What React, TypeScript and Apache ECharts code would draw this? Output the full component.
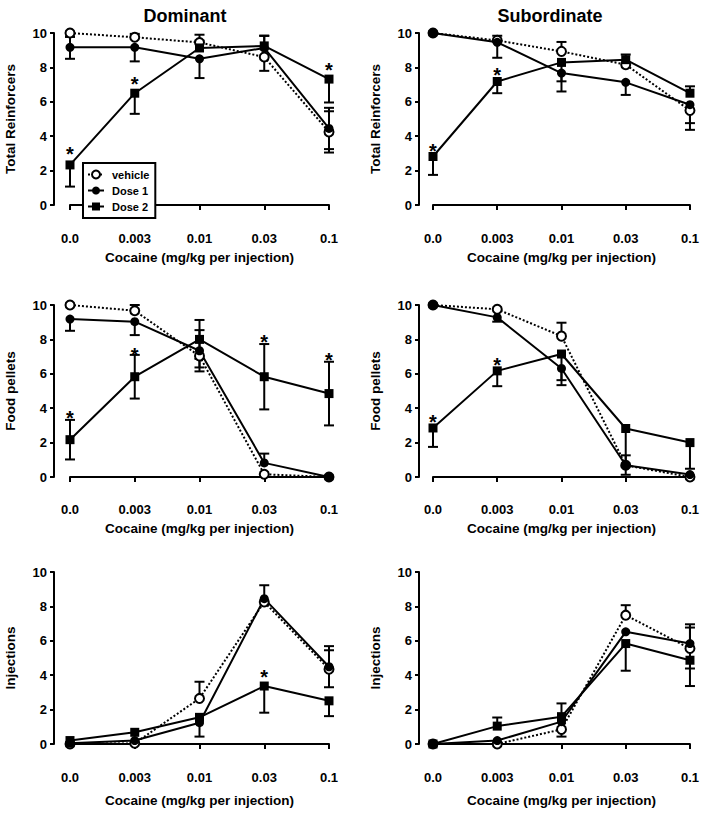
import React, { useEffect, useRef } from 'react';
import * as echarts from 'echarts';

// ---------- data ----------
const doses = ['0.0', '0.003', '0.01', '0.03', '0.1'];
const seriesNames = ['vehicle', 'Dose 1', 'Dose 2'];
const columnTitles = ['Dominant', 'Subordinate'];
const xTitle = 'Cocaine (mg/kg per injection)';
const rowTitles = ['Total Reinforcers', 'Food pellets', 'Injections'];

// Total reinforcers - Dominant
const reinfDomVeh = [10, 9.75, 9.45, 8.6, 4.25];
const reinfDomVehUp = [0, 0.2, 0.1, 0, 1.2];
const reinfDomVehDn = [0, 0, 0, 0.8, 1.2];
const reinfDomD1 = [9.17, 9.17, 8.5, 9.13, 4.45];
const reinfDomD1Up = [0.6, 0, 0, 0.7, 1.2];
const reinfDomD1Dn = [0.67, 0.82, 1.12, 0, 1.2];
const reinfDomD2 = [2.33, 6.5, 9.13, 9.25, 7.32];
const reinfDomD2Up = [0, 0, 0.77, 0.6, 0];
const reinfDomD2Dn = [1.26, 1.2, 0, 0, 1.36];
const reinfDomStars = [3.25, 7.3, null, null, 8.15];

// Total reinforcers - Subordinate
const reinfSubVeh = [10, 9.57, 8.93, 8.16, 5.5];
const reinfSubVehUp = [0, 0.27, 0.55, 0, 0];
const reinfSubVehDn = [0, 0, 0, 0, 1.13];
const reinfSubD1 = [10, 9.46, 7.67, 7.13, 5.83];
const reinfSubD1Up = [0, 0, 0, 0, 0];
const reinfSubD1Dn = [0, 0.9, 1.07, 0.73, 1.07];
const reinfSubD2 = [2.82, 7.18, 8.29, 8.45, 6.5];
const reinfSubD2Up = [0, 0, 0, 0.3, 0.4];
const reinfSubD2Dn = [1.07, 0.68, 1.1, 0, 0];
const reinfSubStars = [3.44, 7.83, null, null, null];

// Food pellets - Dominant
const foodDomVeh = [10, 9.67, 7.03, 0.16, 0];
const foodDomVehUp = [0, 0.33, 0, 0, 0];
const foodDomVehDn = [0, 0, 0.66, 0, 0];
const foodDomD1 = [9.18, 9.03, 7.34, 0.82, 0];
const foodDomD1Up = [0, 0, 1.2, 0.54, 0];
const foodDomD1Dn = [0.68, 0.78, 1.2, 0, 0];
const foodDomD2 = [2.17, 5.83, 8.0, 5.83, 4.85];
const foodDomD2Up = [1.15, 1.27, 1.13, 1.9, 1.85];
const foodDomD2Dn = [1.15, 1.27, 1.13, 1.9, 1.85];
const foodDomStars = [3.73, 7.38, null, 8.16, 7.09];

// Food pellets - Subordinate
const foodSubVeh = [10, 9.75, 8.19, 0.68, 0];
const foodSubVehUp = [0, 0, 0.78, 0.58, 0];
const foodSubVehDn = [0, 0, 0, 0, 0];
const foodSubD1 = [10, 9.28, 6.31, 0.68, 0.14];
const foodSubD1Up = [0, 0, 0, 0, 0];
const foodSubD1Dn = [0, 0.25, 0.68, 0.55, 0];
const foodSubD2 = [2.85, 6.17, 7.15, 2.82, 2.0];
const foodSubD2Up = [0, 0, 0, 0, 0];
const foodSubD2Dn = [1.1, 0.89, 1.81, 2.2, 1.52];
const foodSubStars = [3.46, 6.83, null, null, null];

// Injections - Dominant
const injDomVeh = [0, 0.04, 2.65, 8.26, 4.35];
const injDomVehUp = [0, 0, 0.97, 0, 1.1];
const injDomVehDn = [0, 0, 0, 0, 1.05];
const injDomD1 = [0.04, 0.2, 1.24, 8.45, 4.49];
const injDomD1Up = [0, 0, 0, 0.78, 1.2];
const injDomD1Dn = [0, 0, 0.81, 0, 0];
const injDomD2 = [0.2, 0.68, 1.55, 3.37, 2.51];
const injDomD2Up = [0, 0, 0, 0, 0];
const injDomD2Dn = [0, 0, 0, 1.55, 0.89];
const injDomStars = [null, null, null, 4.2, null];

// Injections - Subordinate
const injSubVeh = [0, 0, 0.85, 7.49, 5.55];
const injSubVehUp = [0, 0, 0, 0.58, 1.22];
const injSubVehDn = [0, 0, 0.42, 0, 0];
const injSubD1 = [0, 0.2, 1.3, 6.52, 5.84];
const injSubD1Up = [0, 0, 0, 0, 1.12];
const injSubD1Dn = [0, 0, 0, 0, 1.45];
const injSubD2 = [0, 1.04, 1.59, 5.84, 4.87];
const injSubD2Up = [0, 0.5, 0.77, 0, 0];
const injSubD2Dn = [0, 0, 0, 1.58, 1.5];
const injSubStars = [null, null, null, null, null];

type Ser = { mean: number[]; up: number[]; dn: number[] };
type Panel = { row: number; col: number; series: Ser[]; stars: (number | null)[] };

const panels: Panel[] = [
  { row: 0, col: 0, stars: reinfDomStars, series: [
    { mean: reinfDomVeh, up: reinfDomVehUp, dn: reinfDomVehDn },
    { mean: reinfDomD1, up: reinfDomD1Up, dn: reinfDomD1Dn },
    { mean: reinfDomD2, up: reinfDomD2Up, dn: reinfDomD2Dn }] },
  { row: 0, col: 1, stars: reinfSubStars, series: [
    { mean: reinfSubVeh, up: reinfSubVehUp, dn: reinfSubVehDn },
    { mean: reinfSubD1, up: reinfSubD1Up, dn: reinfSubD1Dn },
    { mean: reinfSubD2, up: reinfSubD2Up, dn: reinfSubD2Dn }] },
  { row: 1, col: 0, stars: foodDomStars, series: [
    { mean: foodDomVeh, up: foodDomVehUp, dn: foodDomVehDn },
    { mean: foodDomD1, up: foodDomD1Up, dn: foodDomD1Dn },
    { mean: foodDomD2, up: foodDomD2Up, dn: foodDomD2Dn }] },
  { row: 1, col: 1, stars: foodSubStars, series: [
    { mean: foodSubVeh, up: foodSubVehUp, dn: foodSubVehDn },
    { mean: foodSubD1, up: foodSubD1Up, dn: foodSubD1Dn },
    { mean: foodSubD2, up: foodSubD2Up, dn: foodSubD2Dn }] },
  { row: 2, col: 0, stars: injDomStars, series: [
    { mean: injDomVeh, up: injDomVehUp, dn: injDomVehDn },
    { mean: injDomD1, up: injDomD1Up, dn: injDomD1Dn },
    { mean: injDomD2, up: injDomD2Up, dn: injDomD2Dn }] },
  { row: 2, col: 1, stars: injSubStars, series: [
    { mean: injSubVeh, up: injSubVehUp, dn: injSubVehDn },
    { mean: injSubD1, up: injSubD1Up, dn: injSubD1Dn },
    { mean: injSubD2, up: injSubD2Up, dn: injSubD2Dn }] },
];

// ---------- layout ----------
const FONT = '"Liberation Sans", Arial, sans-serif';
const colLeft = [70, 433];
const colWidth = [259, 260];
const colYOffset = [16, 14];
const rowTop = [33, 305, 572];
const rowXOffset = [14, 13, 14];
const rowXNameGap = [31, 31, 35];
const gridHeight = 172;

function buildOption() {
  const grid: any[] = [];
  const xAxis: any[] = [];
  const yAxis: any[] = [];
  const series: any[] = [];
  const axisStyle = { lineStyle: { color: '#000', width: 2 } };

  panels.forEach((p, gi) => {
    grid.push({ left: colLeft[p.col], top: rowTop[p.row], width: colWidth[p.col], height: gridHeight });
    xAxis.push({
      type: 'category', gridIndex: gi, data: doses, boundaryGap: false,
      offset: rowXOffset[p.row],
      axisLine: { show: true, ...axisStyle },
      axisTick: { show: true, length: 5, alignWithLabel: true, ...axisStyle },
      axisLabel: { color: '#000', fontFamily: FONT, fontWeight: 'bold', fontSize: 13, margin: 13 },
      splitLine: { show: false },
      name: xTitle, nameLocation: 'middle', nameGap: rowXNameGap[p.row],
      nameTextStyle: { color: '#000', fontFamily: FONT, fontWeight: 'bold', fontSize: 13.5 },
    });
    yAxis.push({
      type: 'value', gridIndex: gi, min: 0, max: 10, interval: 2,
      offset: colYOffset[p.col],
      axisLine: { show: true, ...axisStyle },
      axisTick: { show: true, length: 4, ...axisStyle },
      axisLabel: { color: '#000', fontFamily: FONT, fontWeight: 'bold', fontSize: 13, margin: 7 },
      splitLine: { show: false },
      name: rowTitles[p.row], nameLocation: 'middle', nameGap: 37,
      nameTextStyle: { color: '#000', fontFamily: FONT, fontWeight: 'bold', fontSize: 13.5 },
    });

    // error bars
    p.series.forEach((s, si) => {
      series.push({
        type: 'custom', name: 'err-' + gi + '-' + si, xAxisIndex: gi, yAxisIndex: gi, z: 1,
        silent: true,
        data: s.mean.map((m, i) => [i, m, s.up[i], s.dn[i]]),
        renderItem: (params: any, api: any) => {
          const i = api.value(0), m = api.value(1), up = api.value(2), dn = api.value(3);
          const c = api.coord([i, m]);
          const style = { stroke: '#000', lineWidth: 2, fill: 'none' };
          const w = 5;
          const children: any[] = [];
          if (up > 0) {
            const t = api.coord([i, m + up]);
            children.push({ type: 'line', shape: { x1: c[0], y1: c[1], x2: c[0], y2: t[1] }, style });
            children.push({ type: 'line', shape: { x1: c[0] - w, y1: t[1], x2: c[0] + w, y2: t[1] }, style });
          }
          if (dn > 0) {
            const b = api.coord([i, m - dn]);
            children.push({ type: 'line', shape: { x1: c[0], y1: c[1], x2: c[0], y2: b[1] }, style });
            children.push({ type: 'line', shape: { x1: c[0] - w, y1: b[1], x2: c[0] + w, y2: b[1] }, style });
          }
          return { type: 'group', children };
        },
      });
    });

    // lines
    p.series.forEach((s, si) => {
      series.push({
        type: 'line', name: seriesNames[si], xAxisIndex: gi, yAxisIndex: gi, z: 2,
        data: s.mean, symbolSize: 9,
        symbol: si === 2 ? 'rect' : 'circle',
        lineStyle: { color: '#000', width: 2, type: si === 0 ? [2, 2] : 'solid' },
        itemStyle: si === 0
          ? { color: '#fff', borderColor: '#000', borderWidth: 2 }
          : { color: '#000', borderColor: '#000', borderWidth: 0 },
        showSymbol: true,
      });
    });

    // asterisks
    const starData = p.stars.map((v, i) => (v == null ? null : [i, v])).filter((d) => d) as number[][];
    if (starData.length) {
      series.push({
        type: 'custom', name: 'stars-' + gi, xAxisIndex: gi, yAxisIndex: gi, z: 3, silent: true,
        data: starData,
        renderItem: (params: any, api: any) => {
          const c = api.coord([api.value(0), api.value(1)]);
          return {
            type: 'text', x: c[0], y: c[1] + 5,
            style: { text: '*', fill: '#000', font: 'bold 20px ' + FONT, textAlign: 'center', textVerticalAlign: 'middle' },
          };
        },
      });
    }
  });

  return {
    animation: false,
    backgroundColor: '#fff',
    grid, xAxis, yAxis, series,
    legend: {
      data: seriesNames, orient: 'vertical', left: 83, top: 163,
      padding: [6, 6, 6, 4], itemGap: 5, itemWidth: 16, itemHeight: 10,
      borderColor: '#000', borderWidth: 2, backgroundColor: '#fff',
      textStyle: { color: '#000', fontFamily: FONT, fontWeight: 'bold', fontSize: 11, padding: [0, 0, 0, 3] },
      selectedMode: false,
    },
    graphic: columnTitles.map((t, i) => ({
      type: 'text', x: [185, 550][i], y: 16,
      style: { text: t, fill: '#000', font: 'bold 18px ' + FONT, textAlign: 'center', textVerticalAlign: 'middle' },
    })),
  };
}

export default function App() {
  const ref = useRef<HTMLDivElement>(null);
  useEffect(() => {
    if (!ref.current) return;
    const chart = echarts.init(ref.current, undefined, { renderer: 'svg' });
    chart.setOption(buildOption() as any);
    return () => chart.dispose();
  }, []);
  return (
    <div style={{ position: 'fixed', left: 0, top: 0, width: 702, height: 815, background: '#fff' }}>
      <div ref={ref} style={{ width: 702, height: 815 }} />
    </div>
  );
}
